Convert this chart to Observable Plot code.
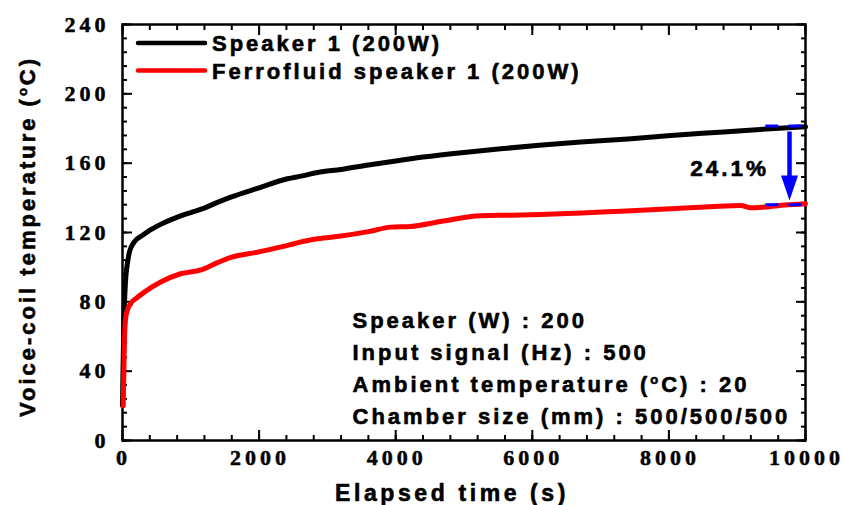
<!DOCTYPE html>
<html><head><meta charset="utf-8">
<script src="https://cdn.jsdelivr.net/npm/d3@7"></script>
<script src="https://cdn.jsdelivr.net/npm/@observablehq/plot@0.6"></script>
<style>
html,body{margin:0;padding:0;background:#fff;}
#chart svg text{letter-spacing:3px;}
#chart g[font-family*="Serif"] text{letter-spacing:4px;}
#chart g[font-size="23"] text{letter-spacing:3.6px;}
</style></head><body><div id="chart"></div>
<script>
// ---- data ----
const blackTime = [0, 5, 12, 20, 35, 50, 75, 100, 170, 300, 414, 600, 805, 1000, 1196, 1400, 1586, 2000, 2415, 2611, 2855, 3200, 3600, 4000, 4400, 5000, 5539, 6100, 6710, 7400, 8028, 8800, 9492, 10000];
const blackTemp = [20, 35, 50, 68, 85, 95, 103, 108.5, 114.5, 118.5, 121.6, 125.5, 128.9, 131.5, 134.1, 137.5, 140.4, 145.8, 151, 152.5, 154.6, 156.4, 158.9, 161.3, 163.5, 166.2, 168.3, 170.3, 172.2, 174, 176, 178, 179.9, 181];
const redTime = [10, 20, 30, 45, 70, 120, 200, 320, 560, 850, 1150, 1390, 1590, 1980, 2460, 2611, 2860, 3200, 3600, 3930, 4220, 4660, 5250, 5700, 6120, 6710, 7300, 8030, 8600, 9050, 9200, 9400, 9700, 10000];
const redTemp = [20, 40, 60, 70, 75, 79, 82, 85.6, 91.4, 96.2, 98.4, 102.6, 105.6, 108.7, 113, 114.6, 116.4, 118, 120.5, 123.1, 123.5, 126.4, 129.7, 130, 130.4, 131.2, 132.3, 133.7, 134.8, 135.6, 134.3, 134.7, 135.8, 136.6];
const seriesNames = ["Speaker 1 (200W)", "Ferrofluid speaker 1 (200W)"];
const seriesColors = ["#000000", "#ff0000"];
const xTicks = [0, 2000, 4000, 6000, 8000, 10000];
const yTicks = [0, 40, 80, 120, 160, 200, 240];
const xMinor = d3.range(0, 10001, 400);
const yMinor = d3.range(0, 241, 8);
const infoLines = ["Speaker (W) : 200", "Input signal (Hz) : 500", "Ambient temperature (°C) : 20", "Chamber size (mm) : 500/500/500"];
const xTitle = "Elapsed time (s)";
const yTitle = "Voice-coil temperature (°C)";
const pctLabel = "24.1%";
const dashLevels = [181.4, 136];
const dashFrom = 9420;
const arrowX = 9766;
const arrowFrom = 178;
const arrowTo = 138.5;
const pctPos = {t: 8890, T: 157};

const black = blackTime.map((t, i) => ({t, T: blackTemp[i]}));
const red = redTime.map((t, i) => ({t, T: redTemp[i]}));

const sans = "'Liberation Sans', Arial, sans-serif";
const serif = "'Liberation Serif', 'Times New Roman', serif";
const blue = "#0000ff";
const sansText = {fontFamily: sans, fontSize: 22, fontWeight: "bold", fill: "#000", stroke: "#000", strokeWidth: 0.6};
const serifText = {fontFamily: serif, fontSize: 22, fontWeight: "bold", fill: "#000", stroke: "#000", strokeWidth: 0.5};

const arrowHead = {draw(ctx) { ctx.moveTo(-8.5, -25); ctx.lineTo(8.5, -25); ctx.lineTo(0, 0); ctx.closePath(); }};

const tickCommon = {fill: "none", strokeWidth: 2, stroke: "#000", label: null};
const plot = Plot.plot({
  width: 843, height: 505,
  marginLeft: 122, marginRight: 38, marginTop: 24, marginBottom: 65,
  x: {domain: [0, 10000]},
  y: {domain: [0, 240]},
  style: {background: "#fff", color: "#000"},
  marks: [
    Plot.axisX(xMinor, {...tickCommon, tickSize: -5}),
    Plot.axisX(xMinor, {...tickCommon, anchor: "top", tickSize: -5}),
    Plot.axisX(xTicks, {...tickCommon, tickSize: -10}),
    Plot.axisX(xTicks, {...tickCommon, anchor: "top", tickSize: -10}),
    Plot.axisY(yMinor, {...tickCommon, tickSize: -5}),
    Plot.axisY(yMinor, {...tickCommon, anchor: "right", tickSize: -5}),
    Plot.axisY(yTicks, {...tickCommon, tickSize: -10}),
    Plot.axisY(yTicks, {...tickCommon, anchor: "right", tickSize: -10}),
    Plot.text(xTicks, {x: d => d, text: d => String(d), frameAnchor: "bottom", textAnchor: "middle", lineAnchor: "top", dy: 9, dx: 1, ...serifText}),
    Plot.text(yTicks, {y: d => d, text: d => String(d), frameAnchor: "left", textAnchor: "end", lineAnchor: "middle", dx: -13, ...serifText}),
    Plot.frame({stroke: "#000", strokeWidth: 2.5}),
    Plot.line(black, {x: "t", y: "T", stroke: seriesColors[0], strokeWidth: 5, strokeLinejoin: "round", curve: "monotone-x"}),
    Plot.line(red, {x: "t", y: "T", stroke: seriesColors[1], strokeWidth: 5, strokeLinejoin: "round", curve: "monotone-x"}),
    Plot.ruleY(dashLevels, {x1: dashFrom, x2: 10000, stroke: blue, strokeWidth: 3, strokeDasharray: "13,10"}),
    Plot.ruleX([arrowX], {y1: arrowFrom, y2: arrowTo + 12, stroke: blue, strokeWidth: 4.5}),
    Plot.dot([arrowTo], {x: () => arrowX, y: d => d, symbol: arrowHead, fill: blue, stroke: "none", r: 5}),
    Plot.text([pctLabel], {x: () => pctPos.t, y: () => pctPos.T, text: d => d, textAnchor: "middle", ...sansText, fontSize: 22.5}),
    Plot.text([infoLines.join("\n")], {frameAnchor: "top-left", dx: 230, dy: 281.5, lineAnchor: "top", textAnchor: "start", lineHeight: 1.44, text: d => d, ...sansText}),
    Plot.text([xTitle], {frameAnchor: "bottom", textAnchor: "middle", dx: -12, dy: 53.5, lineAnchor: "middle", text: d => d, ...sansText, fontSize: 23}),
    Plot.text([yTitle], {frameAnchor: "left", textAnchor: "middle", rotate: -90, dx: -95, dy: 4, lineAnchor: "middle", text: d => d, ...sansText})
  ]
});
document.getElementById("chart").appendChild(plot);

const svg = d3.select(plot);

// superscript "o" for the degree sign, as in the reference
svg.selectAll("text, tspan").each(function () {
  if (this.children.length) return;
  const s = this.textContent;
  if (!s.includes("°")) return;
  const [a, b] = s.split("°");
  this.textContent = "";
  const el = d3.select(this);
  el.append("tspan").text(a);
  el.append("tspan").attr("dy", -8).attr("font-size", 13).text("o");
  el.append("tspan").attr("dy", 8).text(b);
});

// legend
const lg = svg.append("g").attr("aria-label", "legend");
seriesNames.forEach((name, i) => {
  const cy = 43 + i * 27.5;
  lg.append("line").attr("x1", 138).attr("x2", 205).attr("y1", cy).attr("y2", cy)
    .attr("stroke", seriesColors[i]).attr("stroke-width", 4.5).attr("stroke-linecap", "round");
  lg.append("text").attr("x", 212).attr("y", cy + 8).attr("text-anchor", "start").text(name)
    .attr("font-family", sans).attr("font-size", 22).attr("font-weight", "bold")
    .attr("fill", "#000").attr("stroke", "#000").attr("stroke-width", 0.6);
});
</script></body></html>
